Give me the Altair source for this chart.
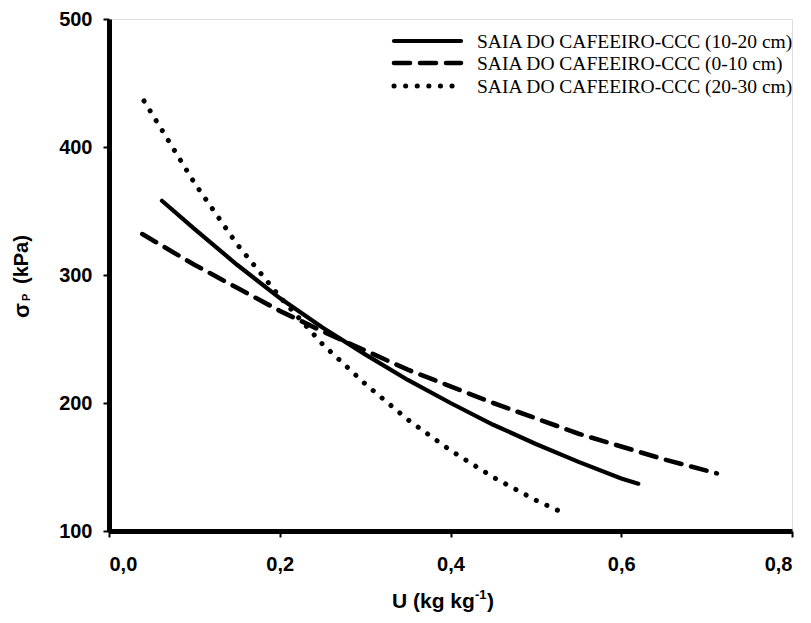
import altair as alt
import pandas as pd

# Pre-consolidation pressure (kPa) versus soil water content (kg kg-1)
u_10_20 = [0.062, 0.10, 0.15, 0.20, 0.25, 0.30, 0.35, 0.40, 0.45, 0.50, 0.55, 0.60, 0.620]
sp_10_20 = [358, 336, 308, 282, 259, 238, 218, 200, 183, 168, 154, 141, 137]

u_0_10 = [0.039, 0.10, 0.15, 0.20, 0.25, 0.30, 0.35, 0.40, 0.45, 0.50, 0.55, 0.60, 0.65, 0.712]
sp_0_10 = [332, 308, 290, 272, 256, 241, 226, 213, 200, 188, 176, 166, 156, 145]

u_20_30 = [0.041, 0.10, 0.15, 0.20, 0.25, 0.30, 0.35, 0.40, 0.45, 0.50, 0.536]
sp_20_30 = [436, 372, 324, 283, 246, 215, 187, 163, 142, 124, 113]

series_names = [
    "SAIA DO CAFEEIRO-CCC (10-20 cm)",
    "SAIA DO CAFEEIRO-CCC (0-10 cm)",
    "SAIA DO CAFEEIRO-CCC (20-30 cm)",
]

x_ticks = [0.0, 0.2, 0.4, 0.6, 0.8]
y_ticks = [100, 200, 300, 400, 500]

W, H = 683, 512
SANS = "Liberation Sans"
SERIF = "Liberation Serif"

x_scale = alt.Scale(domain=[0, 0.8], nice=False, zero=False)
y_scale = alt.Scale(domain=[100, 500], nice=False, zero=False)

x_axis = alt.Axis(
    values=x_ticks, title=None, grid=False,
    labelExpr="replace(format(datum.value, '.1f'), '.', ',')",
    labelFont=SANS, labelFontWeight="bold", labelFontSize=20, labelColor="black",
    labelPadding=17, tickSize=6, tickWidth=2, tickColor="black",
    domainColor="black", domainWidth=5,
)
y_axis = alt.Axis(
    values=y_ticks, title=None, grid=False, format="d",
    labelFont=SANS, labelFontWeight="bold", labelFontSize=20, labelColor="black",
    labelPadding=11, tickSize=6, tickWidth=2, tickColor="black",
    domainColor="black", domainWidth=5,
)

styles = [
    dict(strokeWidth=4.2, strokeCap="round"),
    dict(strokeWidth=4.6, strokeCap="round", strokeDash=[16, 10]),
    dict(strokeWidth=5, strokeCap="round", strokeDash=[0.1, 11.5]),
]
curves = [(u_10_20, sp_10_20), (u_0_10, sp_0_10), (u_20_30, sp_20_30)]

layers = []
for (u, sp), name, st in zip(curves, series_names, styles):
    df = pd.DataFrame({"U": u, "sigma": sp, "serie": name})
    layers.append(
        alt.Chart(df).mark_line(color="black", **st).encode(
            x=alt.X("U:Q", scale=x_scale, axis=x_axis),
            y=alt.Y("sigma:Q", scale=y_scale, axis=y_axis),
        )
    )

# Legend in the upper-right corner of the plot
legend_rows_y = [22, 44, 67]
for name, st, ly in zip(series_names, styles, legend_rows_y):
    layers.append(
        alt.Chart(pd.DataFrame({"serie": [name]})).mark_rule(color="black", **st).encode(
            x=alt.value(285), x2=alt.value(352), y=alt.value(ly)
        )
    )
    layers.append(
        alt.Chart(pd.DataFrame({"serie": [name]})).mark_text(
            font=SERIF, fontSize=19.5, color="black", align="left", baseline="middle"
        ).encode(x=alt.value(368), y=alt.value(ly + 1), text="serie:N")
    )

def label(txt, x, y, size, angle=0, weight="bold"):
    return alt.Chart(pd.DataFrame({"t": [txt]})).mark_text(
        font=SANS, fontSize=size, fontWeight=weight, color="black",
        align="left", baseline="alphabetic", angle=angle,
    ).encode(x=alt.value(x), y=alt.value(y), text="t:N")

# x-axis title: U (kg kg^-1)
layers.append(label("U (kg kg", 283, 589, 21))
layers.append(label("-1", 366, 580, 13))
layers.append(label(")", 378, 589, 21))

# y-axis title: sigma_P (kPa), rotated
layers.append(label("σ", -80, 299, 22, angle=270))
layers.append(label("P", -79, 282, 11, angle=270))
layers.append(label("(kPa)", -81, 265, 20, angle=270))

chart = alt.layer(*layers).properties(
    width=W, height=H,
    autosize=alt.AutoSizeParams(type="none"),
    padding={"left": 109, "top": 19, "right": 19, "bottom": 92},
).configure_view(stroke="black", strokeWidth=3).configure(background="white")

chart.save("out.html", embed_options={"renderer": "svg", "actions": False})
